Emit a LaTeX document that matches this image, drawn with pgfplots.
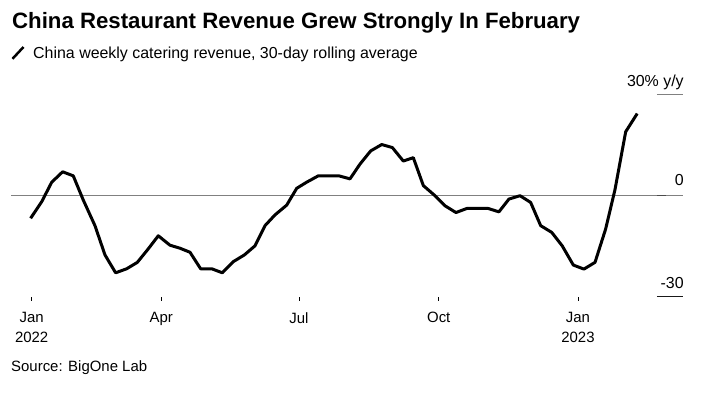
\documentclass[border=0pt]{standalone}
\usepackage{fontspec}
\setmainfont{Liberation Sans}
\usepackage{pgfplots}
\pgfplotsset{compat=1.18}
\begin{document}
\begin{tikzpicture}[x=1bp,y=1bp]
\path[use as bounding box] (0,0) rectangle (706,396);
\node[anchor=base west, font=\bfseries\fontsize{22.3}{26}\selectfont, inner sep=0] at (12,367.7) {China Restaurant Revenue Grew Strongly In February};
\draw[line width=2.5bp] (12.5,337.2) -- (23.5,349.0);
\node[anchor=base west, font=\fontsize{16}{19}\selectfont, inner sep=0] at (33,337.3) {China weekly catering revenue, 30-day rolling average};
\node[anchor=base west, font=\fontsize{15}{18}\selectfont, inner sep=0] at (11,24.3) {Source: BigOne Lab};
\begin{axis}[
  at={(11bp,99.3bp)}, anchor=south west,
  width=672bp, height=202bp, scale only axis,
  xmin=-13.8, xmax=435.2, ymin=-30, ymax=30,
  axis line style={draw=none},
  ytick=\empty,
  xtick={0,86.6,178.6,272,365},
  xticklabels={Jan\\2022, Apr, Jul, Oct, Jan\\2023},
  xticklabel style={align=center, font=\fontsize{15}{20}\selectfont, yshift=-8bp},
  tick align=outside, major tick length=4bp,
  xtick style={draw=black, line width=0.8bp},
  xtick pos=bottom,
  extra y ticks={0}, extra y tick labels={},
  extra y tick style={grid=major, major grid style={gray, line width=1.3bp}, major tick length=0pt},
  clip=false,
]
\addplot[black, line width=3bp, line join=round] coordinates {
(-0.7,-6.7) (6.7,-1.8) (13.4,4.0) (20.7,7.1) (27.8,5.9) (34.5,-1.3) (42.3,-8.9) (49.0,-17.6)
(56.1,-22.9) (63.5,-21.7) (70.6,-19.8) (77.9,-15.8) (84.6,-11.9) (92.4,-14.7) (99.1,-15.6) (105.8,-16.8)
(112.9,-21.7) (120.3,-21.7) (127.4,-22.9) (134.7,-19.6) (142.1,-17.6) (149.2,-14.9) (155.9,-8.9) (162.6,-5.7)
(170.4,-2.8) (177.1,2.2) (183.7,4.0) (191.5,5.9) (198.2,5.9) (205.3,5.9) (212.7,5.0) (219.4,9.4)
(226.5,13.3) (233.9,15.2) (241.0,14.3) (248.3,10.3) (255.0,11.3) (261.7,3.0) (269.5,0.0) (276.2,-3.0)
(283.5,-5.0) (290.7,-3.8) (297.7,-3.8) (305.1,-3.8) (312.2,-4.8) (318.9,-1.0) (326.3,0.0) (333.4,-2.0)
(340.1,-8.9) (347.5,-10.9) (354.5,-14.9) (361.9,-20.6) (369.0,-21.8) (376.4,-19.8) (383.5,-9.9) (389.7,1.7)
(396.9,19.0) (404.6,24.4)
};
\draw[gray, line width=1.3bp] (axis cs:417.8,30) -- (axis cs:435.2,30);
\draw[black!90, line width=1.3bp] (axis cs:417.8,-30) -- (axis cs:435.2,-30);
\draw[black!70, line width=1.3bp] (axis cs:417.8,0) -- (axis cs:423.8,0);
\node[anchor=base east, inner sep=0, font=\fontsize{16}{18}\selectfont] at ([yshift=8bp]axis cs:435.8,30) {30\% y/y};
\node[anchor=base east, inner sep=0, font=\fontsize{16}{18}\selectfont] at ([yshift=10bp]axis cs:435.8,0) {0};
\node[anchor=base east, inner sep=0, font=\fontsize{16}{18}\selectfont] at ([yshift=8bp]axis cs:435.8,-30) {-30};
\end{axis}
\end{tikzpicture}
\end{document}
